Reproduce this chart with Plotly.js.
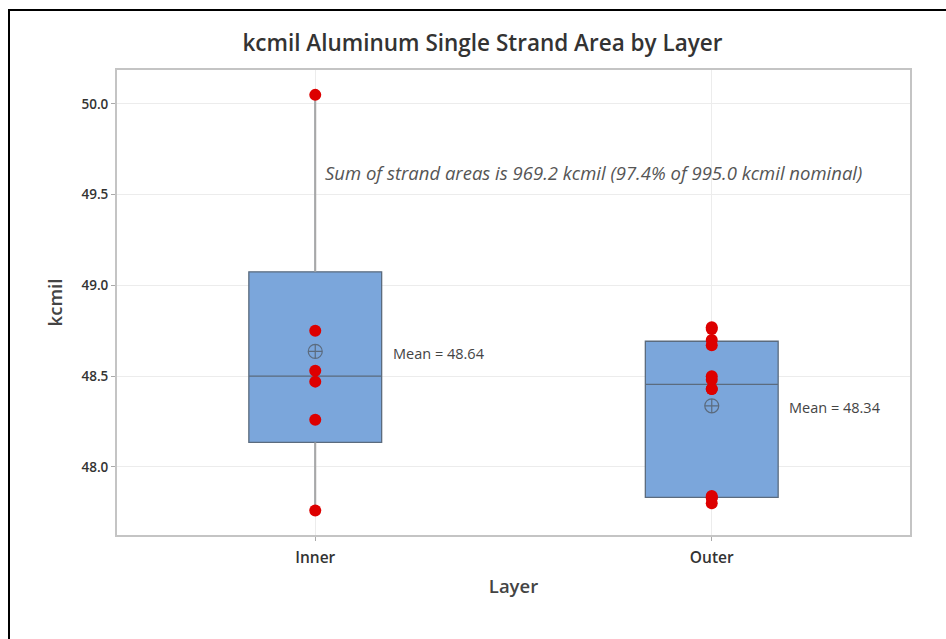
<!DOCTYPE html>
<html>
<head>
<meta charset="utf-8">
<script src="https://cdn.plot.ly/plotly-3.0.1.min.js"></script>
<style>
  html, body { margin: 0; padding: 0; background: #fff; }
  #wrap { position: relative; width: 946px; height: 639px; overflow: hidden; }
  #chart { width: 946px; height: 639px; }
  #frame { position: absolute; left: 8px; top: 9px; width: 960px; height: 660px;
           border-left: 2px solid #000; border-top: 2px solid #000; pointer-events: none; }
</style>
</head>
<body>
<div id="wrap">
  <div id="chart"></div>
  <div id="frame"></div>
</div>
<script>
// ---- data ----
const layers = ["Inner", "Outer"];
const innerValues = [50.05, 48.75, 48.53, 48.47, 48.26, 47.76];
const outerValues = [48.77, 48.76, 48.70, 48.67, 48.50, 48.48, 48.43, 48.43, 47.84, 47.83, 47.83, 47.80];
const titleText = "kcmil Aluminum Single Strand Area by Layer";
const noteText = "Sum of strand areas is 969.2 kcmil (97.4% of 995.0 kcmil nominal)";
const yTicks = [48.0, 48.5, 49.0, 49.5, 50.0];
const yTickLabels = ["48.0", "48.5", "49.0", "49.5", "50.0"];

// Minitab-style quartiles: position p*(n+1)
function quant(sorted, p) {
  const n = sorted.length;
  let pos = p * (n + 1);
  if (pos < 1) pos = 1;
  if (pos > n) pos = n;
  const lo = Math.floor(pos), frac = pos - lo;
  const a = sorted[lo - 1], b = sorted[Math.min(lo, n - 1)];
  return a + frac * (b - a);
}
function stats(vals) {
  const s = vals.slice().sort((a, b) => a - b);
  const q1 = quant(s, 0.25), med = quant(s, 0.5), q3 = quant(s, 0.75);
  const iqr = q3 - q1;
  const lf = s.find(v => v >= q1 - 1.5 * iqr);
  const uf = s.slice().reverse().find(v => v <= q3 + 1.5 * iqr);
  const mean = vals.reduce((a, b) => a + b, 0) / vals.length;
  return { q1, med, q3, lf, uf, mean };
}
const groups = [innerValues, outerValues];
const st = groups.map(stats);

const boxTrace = {
  type: "box",
  x: layers,
  q1: st.map(s => s.q1),
  median: st.map(s => s.med),
  q3: st.map(s => s.q3),
  lowerfence: st.map(s => s.lf),
  upperfence: st.map(s => s.uf),
  width: 0.335,
  whiskerwidth: 0,
  boxpoints: false,
  fillcolor: "#7ba6db",
  line: { color: "#5b6b7e", width: 1.3 },
  hoverinfo: "skip",
  showlegend: false
};
const whiskerTraces = layers.map((name, i) => ({
  type: "scatter", mode: "lines",
  x: [name, name, null, name, name],
  y: [st[i].lf, st[i].q1, null, st[i].q3, st[i].uf],
  line: { color: "#a8a8a8", width: 2 },
  hoverinfo: "skip", showlegend: false
}));

const pointTraces = layers.map((name, i) => ({
  type: "scatter", mode: "markers",
  x: groups[i].map(() => name),
  y: groups[i],
  marker: { color: "#dd0000", size: 12 },
  showlegend: false
}));

const meanTrace = {
  type: "scatter", mode: "markers",
  x: layers,
  y: st.map(s => s.mean),
  marker: { symbol: "circle-cross-open", size: 14, color: "#5b6b7e", line: { width: 1.2 } },
  showlegend: false
};

const font = "'Open Sans', 'Noto Sans', sans-serif";

const annotations = layers.map((name, i) => ({
  x: i + 0.19, y: st[i].mean, xref: "x", yref: "y",
  text: "Mean = " + (Math.round(st[i].mean * 100) / 100).toFixed(2),
  showarrow: false, xanchor: "left", yanchor: "middle", yshift: -2,
  font: { family: font, size: 14.5, color: "#444" }
}));
annotations.push({
  x: 0.02, y: 49.62, xref: "x", yref: "y",
  text: noteText, showarrow: false, xanchor: "left", yanchor: "middle",
  font: { family: font, size: 18.5, color: "#555", style: "italic" }
});

const layout = {
  width: 946, height: 639,
  margin: { l: 117, r: 36, t: 70, b: 104 },
  paper_bgcolor: "#fff", plot_bgcolor: "#fff",
  font: { family: font, color: "#333" },
  title: { text: titleText, x: 0.51, xanchor: "center", y: 0.932, yanchor: "middle",
           font: { family: font, size: 22.5, color: "#333", weight: 600 } },
  xaxis: {
    type: "category", range: [-0.5, 1.5],
    title: { text: "Layer", font: { size: 18.5, color: "#444", weight: 600 }, standoff: 13 },
    showgrid: true, gridcolor: "#ececec", gridwidth: 1,
    showline: true, linecolor: "#c4c4c4", linewidth: 2, mirror: true,
    ticks: "outside", ticklen: 4, tickcolor: "#aaa",
    ticklabelstandoff: 3,
    tickfont: { size: 15.5, color: "#333", weight: 600 },
    zeroline: false
  },
  yaxis: {
    range: [47.625, 50.187],
    title: { text: "kcmil", font: { size: 18.5, color: "#444", weight: 600 }, standoff: 14 },
    tickvals: yTicks, ticktext: yTickLabels,
    showgrid: true, gridcolor: "#ececec", gridwidth: 1,
    showline: true, linecolor: "#c4c4c4", linewidth: 2, mirror: true,
    ticks: "outside", ticklen: 4, tickcolor: "#aaa",
    tickfont: { size: 13.5, color: "#333", weight: 600 },
    zeroline: false
  },
  annotations: annotations,
  showlegend: false
};

Plotly.newPlot("chart", [...whiskerTraces, boxTrace, ...pointTraces, meanTrace], layout,
  { staticPlot: true, displayModeBar: false });
</script>
</body>
</html>
